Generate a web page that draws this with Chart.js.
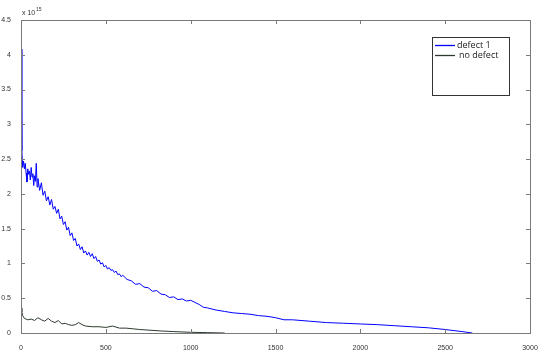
<!DOCTYPE html>
<html>
<head>
<meta charset="utf-8">
<script src="https://cdn.jsdelivr.net/npm/chart.js@4"></script>
<style>
  html, body { margin: 0; padding: 0; background: #fff; }
  #wrap { width: 550px; height: 355px; }
</style>
</head>
<body>
<div id="wrap"><canvas id="grafico"></canvas></div>
<script>
// valores (eixo y em unidades de 1e15)
var xDefeito = [0, 5, 10, 15, 20, 25, 30, 35, 40, 45, 50, 55, 60, 65, 70, 75, 80, 85, 90, 95,
  100, 110, 120, 130, 140, 150, 160, 170, 180, 190, 200, 210, 220, 230, 240, 250, 260, 270, 280, 290,
  300, 310, 320, 330, 340, 350, 360, 370, 380, 390, 400, 410, 420, 430, 440, 450, 460, 470, 480, 490,
  500, 510, 520, 530, 540, 550, 560, 570, 580, 590, 600, 625, 650, 675, 700, 725, 750, 775, 800, 825,
  850, 875, 900, 925, 950, 975, 1000, 1025, 1050, 1075, 1100, 1150, 1200, 1250, 1300, 1350, 1400, 1450, 1500, 1550,
  1600, 1700, 1800, 1900, 2000, 2100, 2200, 2300, 2400, 2500, 2600, 2660]
var defeito1 = [4.08, 2.62, 2.38, 2.47, 2.36, 2.44, 2.30, 2.17, 2.36, 2.28, 2.33, 2.20, 2.38, 2.24, 2.29, 2.12, 2.26, 2.18, 2.44, 2.10,
  2.22, 2.05, 2.16, 1.98, 2.04, 1.90, 1.96, 1.84, 1.92, 1.78, 1.82, 1.72, 1.78, 1.64, 1.68, 1.56, 1.60, 1.48, 1.52, 1.40,
  1.44, 1.33, 1.36, 1.25, 1.28, 1.20, 1.24, 1.15, 1.18, 1.12, 1.16, 1.10, 1.14, 1.07, 1.10, 1.03, 1.05, 0.99, 1.01, 0.95,
  0.97, 0.92, 0.94, 0.90, 0.91, 0.87, 0.89, 0.84, 0.85, 0.81, 0.83, 0.77, 0.75, 0.70, 0.71, 0.66, 0.65, 0.60, 0.61, 0.56,
  0.55, 0.51, 0.52, 0.48, 0.49, 0.46, 0.47, 0.44, 0.41, 0.37, 0.36, 0.33, 0.31, 0.29, 0.28, 0.27, 0.25, 0.24, 0.22, 0.19,
  0.19, 0.17, 0.15, 0.14, 0.13, 0.12, 0.105, 0.09, 0.075, 0.05, 0.02, 0.0]

var xSemDefeito = [0, 5, 10, 20, 40, 60, 80, 100, 120, 140, 160, 180, 200, 220, 240, 260, 280, 300, 320, 340,
  360, 380, 420, 460, 500, 540, 580, 620, 660, 700, 760, 820, 900, 1000, 1100, 1200]
var semDefeito = [0.36, 0.30, 0.25, 0.21, 0.19, 0.20, 0.18, 0.22, 0.19, 0.17, 0.21, 0.17, 0.15, 0.18, 0.13, 0.14, 0.12, 0.11, 0.12, 0.15,
  0.12, 0.10, 0.09, 0.09, 0.08, 0.10, 0.07, 0.07, 0.06, 0.05, 0.04, 0.03, 0.02, 0.01, 0.005, 0]

var rotulos = ['defect 1', 'no defect']
var cores = ['#0000ff', '#2e3a2e']

// moldura, marcas internas, legenda e expoente
var moldura = {
  id: 'moldura',
  afterDraw: function (chart) {
    var ctx = chart.ctx
    var a = chart.chartArea
    var sx = chart.scales.x
    var sy = chart.scales.y
    ctx.save()
    ctx.strokeStyle = '#7a7a7a'
    ctx.lineWidth = 1
    ctx.strokeRect(Math.round(a.left) + 0.5, Math.round(a.top) + 0.5,
      Math.round(a.right - a.left), Math.round(a.bottom - a.top))
    ctx.beginPath()
    sx.ticks.forEach(function (t) {
      var px = Math.round(sx.getPixelForValue(t.value)) + 0.5
      ctx.moveTo(px, a.bottom); ctx.lineTo(px, a.bottom - 4)
      ctx.moveTo(px, a.top); ctx.lineTo(px, a.top + 4)
    })
    sy.ticks.forEach(function (t) {
      var py = Math.round(sy.getPixelForValue(t.value)) + 0.5
      ctx.moveTo(a.left, py); ctx.lineTo(a.left + 4, py)
      ctx.moveTo(a.right, py); ctx.lineTo(a.right - 4, py)
    })
    ctx.stroke()

    // x 10^15
    ctx.fillStyle = '#333'
    ctx.textBaseline = 'alphabetic'
    ctx.font = '7px "Liberation Sans"'
    ctx.fillText('x 10', a.left + 1, a.top - 5)
    ctx.font = '5px "Liberation Sans"'
    ctx.fillText('15', a.left + 15, a.top - 9)

    // legenda
    ctx.fillStyle = '#fff'
    ctx.fillRect(432.5, 37.5, 77, 58)
    ctx.strokeStyle = '#333'
    ctx.strokeRect(432.5, 37.5, 77, 58)
    ctx.font = '9px "Open Sans"'
    ctx.textBaseline = 'middle'
    for (var i = 0; i < rotulos.length; i++) {
      var y = 45.5 + i * 10
      ctx.beginPath()
      ctx.strokeStyle = cores[i]
      ctx.lineWidth = 1.3
      ctx.moveTo(435, y)
      ctx.lineTo(455, y)
      ctx.stroke()
      ctx.fillStyle = '#222'
      ctx.fillText(rotulos[i], 457 + i * 2, y)
    }
    ctx.restore()
  }
}

new Chart(document.querySelector('#grafico'), {
  type: 'line',
  data: {
    datasets: [
      {
        label: rotulos[0],
        data: xDefeito.map(function (x, i) { return { x: x, y: defeito1[i] } }),
        borderColor: cores[0],
        borderWidth: 1,
        pointRadius: 0,
        tension: 0
      },
      {
        label: rotulos[1],
        data: xSemDefeito.map(function (x, i) { return { x: x, y: semDefeito[i] } }),
        borderColor: cores[1],
        borderWidth: 1,
        pointRadius: 0,
        tension: 0
      }
    ]
  },
  options: {
    responsive: true,
    maintainAspectRatio: false,
    animation: false,
    layout: { padding: { left: 0, right: 20, top: 20, bottom: 0 } },
    plugins: { legend: { display: false }, tooltip: { enabled: false } },
    scales: {
      x: {
        type: 'linear',
        min: 0,
        max: 3000,
        grid: { display: false },
        border: { display: false },
        ticks: {
          stepSize: 500, padding: 3, color: '#333', maxRotation: 0,
          font: { family: 'Liberation Sans', size: 7 },
          callback: function (v) { return String(v) }
        },
        afterFit: function (s) { s.height = 22 }
      },
      y: {
        min: 0,
        max: 4.5,
        grid: { display: false },
        border: { display: false },
        ticks: {
          stepSize: 0.5, padding: 2, color: '#333',
          font: { family: 'Liberation Sans', size: 7 },
          callback: function (v) { return String(v) }
        },
        afterFit: function (s) { s.width = 21 }
      }
    }
  },
  plugins: [moldura]
})
</script>
</body>
</html>
